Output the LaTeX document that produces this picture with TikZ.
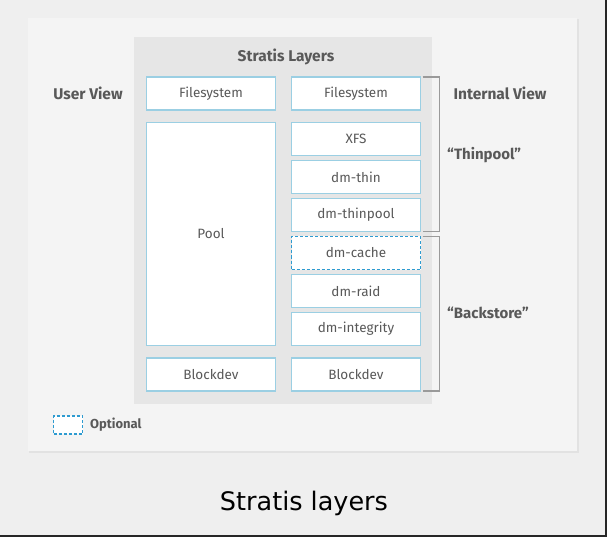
\documentclass[tikz,border=0pt]{standalone}
\usepackage{fontspec}
\setmainfont{Fira Sans}
\newfontfamily\capfont{DejaVu Sans}
\usetikzlibrary{positioning}
\definecolor{pagebg}{HTML}{EFEFEF}
\definecolor{panelbg}{HTML}{F4F4F4}
\definecolor{panelline}{HTML}{E2E2E2}
\definecolor{stackbg}{HTML}{E6E6E6}
\definecolor{boxline}{HTML}{9BCFE3}
\definecolor{optline}{HTML}{2E9BD0}
\definecolor{labelgray}{HTML}{595959}
\definecolor{bracketgray}{HTML}{9A9A9A}
\begin{document}
\begin{tikzpicture}[
    x=1pt, y=-1pt,
    layer/.style={rectangle, draw=boxline, line width=1.4pt, fill=white, minimum width=129pt, minimum height=33pt, inner sep=0pt, outer sep=0pt, font=\fontsize{13.5}{15}\selectfont, text=labelgray},
    optlayer/.style={layer, draw=optline, dashed, dash pattern=on 3pt off 2pt},
    heading/.style={font=\fontsize{15.5}{18}\selectfont\bfseries, text=labelgray, inner sep=0pt},
    note/.style={font=\fontsize{15}{18}\selectfont\bfseries, text=labelgray, inner sep=0pt, anchor=west},
    bracket/.style={draw=bracketgray, line width=1.1pt}
]
\useasboundingbox (0,0) rectangle (607,537);
\fill[pagebg] (0,0) rectangle (607,537);
\fill[panelline] (29,19) rectangle (579,453);
\fill[panelbg] (28,18) rectangle (577,451);
\fill[stackbg] (134,37) rectangle (432,404);
\node[heading] (title) at (286,57) {Stratis Layers};
\node[heading] (user) at (88,93) {User View};
\node[heading] (internal) at (500,93) {Internal View};
\node[layer] (fsL) at (211,93.5) {Filesystem};
\node[layer, minimum height=223pt] (pool) at (211,234) {Pool};
\node[layer] (blockL) at (211,374.5) {Blockdev};
\node[layer] (fsR) at (356,93.5) {Filesystem};
\node[layer] (xfs) at (356,139) {XFS};
\node[layer, below=5pt of xfs] (thin) {dm-thin};
\node[layer, below=5pt of thin] (thinpool) {dm-thinpool};
\node[optlayer, below=5pt of thinpool] (cache) {dm-cache};
\node[layer, below=5pt of cache] (raid) {dm-raid};
\node[layer, below=5pt of raid] (integrity) {dm-integrity};
\node[layer] (blockR) at (356,374.5) {Blockdev};
\draw[bracket] ([xshift=2pt]fsR.north east) -| ([xshift=19pt]thinpool.south east) -- ([xshift=2pt]thinpool.south east);
\draw[bracket] ([xshift=2pt]cache.north east) -| ([xshift=19pt]blockR.south east) -- ([xshift=2pt]blockR.south east);
\node[note] (thinlabel) at (447,155) {“Thinpool”};
\node[note] (backlabel) at (447,313) {“Backstore”};
\node[optlayer, minimum width=29pt, minimum height=18pt] (legend) at (68,425) {};
\node[note, font=\fontsize{13}{15}\selectfont\bfseries] (legendtext) at (90,425) {Optional};
\node[font=\capfont\fontsize{25.5}{30}\selectfont, text=black] (caption) at (304,503) {Stratis layers};
\draw[line width=2pt, black!85] (0,536) -- (607,536);
\draw[line width=2pt, black!85] (606,0) -- (606,537);
\end{tikzpicture}
\end{document}
